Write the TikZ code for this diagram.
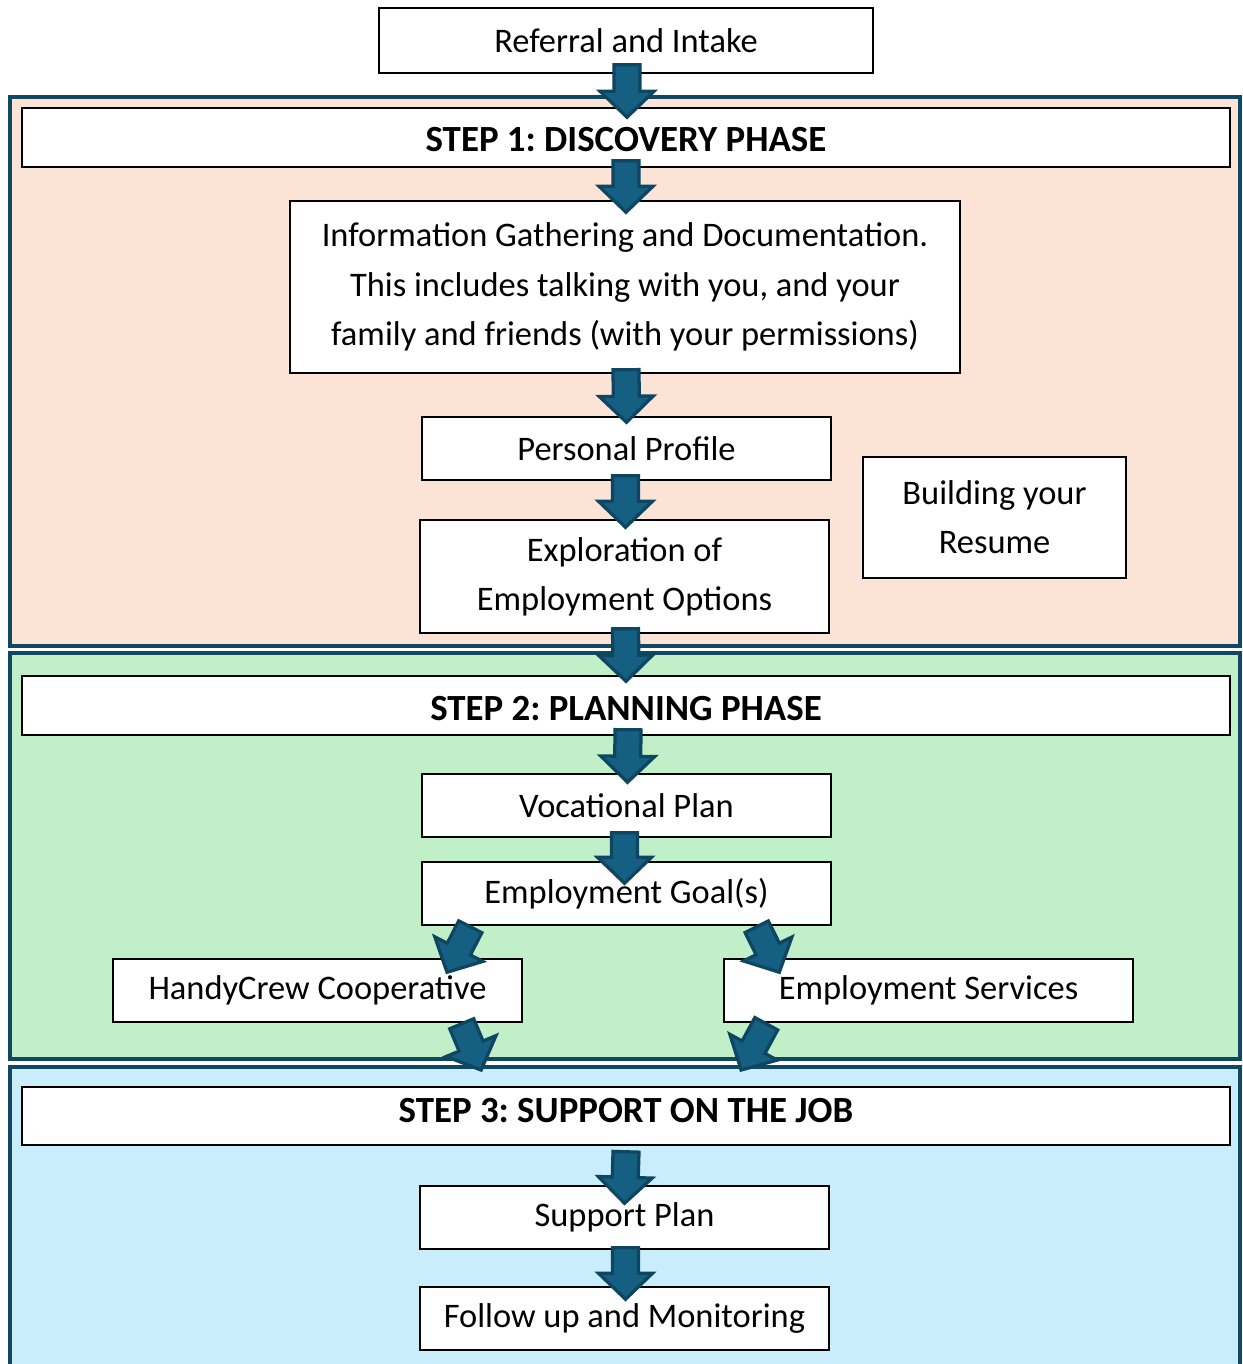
\documentclass[tikz,border=0pt]{standalone}
\usepackage{fontspec}
\setmainfont{Carlito}
\usepackage{tikz}
\usetikzlibrary{calc,positioning}
\frenchspacing

\definecolor{peach}{HTML}{FBE3D6}
\definecolor{mint}{HTML}{C1F0C8}
\definecolor{sky}{HTML}{CAEDFB}
\definecolor{frameblue}{HTML}{104862}
\definecolor{arrowfill}{HTML}{156082}
\definecolor{arrowline}{HTML}{0E4560}

% block arrow from tail point to tip point
\newcommand{\blkarrow}[2]{%
	\coordinate (bt) at (#1);
	\coordinate (bh) at (#2);
	\coordinate (bb) at ($(bh)!0.52cm!(bt)$);
	\draw[blkarr] ($(bt)!0.26cm!90:(bh)$) -- ($(bb)!0.26cm!90:(bh)$) -- ($(bb)!0.54cm!90:(bh)$)
		-- (bh) -- ($(bb)!0.54cm!-90:(bh)$) -- ($(bb)!0.26cm!-90:(bh)$) -- ($(bt)!0.26cm!-90:(bh)$) -- cycle;
}

\begin{document}
\begin{tikzpicture}[
		x=0.02cm, y=-0.02cm,
		phase/.style={draw=frameblue, line width=0.08cm, rectangle, inner sep=0pt},
		box/.style={draw=black, line width=0.03cm, fill=white, rectangle, align=center,
			font=\fontsize{19.6}{28}\selectfont, inner sep=2pt},
		header/.style={box, minimum width=24.16cm, minimum height=1.18cm,
			font=\fontsize{21}{28}\selectfont\bfseries, text height=0.58cm, text depth=0cm},
		stepbox/.style={box, minimum width=8.18cm, minimum height=1.26cm},
		blkarr/.style={fill=arrowfill, draw=arrowline, line width=0.065cm, line join=miter}
		]

	\useasboundingbox (0,0) rectangle (1242,1364);

	% --- phases ---
	\node[phase, fill=peach, minimum width=24.6cm, minimum height=10.98cm] (ph1) at (625,371.5) {};
	\node[phase, fill=mint, minimum width=24.6cm, minimum height=8.12cm] (ph2) at (625,856) {};
	\node[phase, fill=sky, minimum width=24.6cm, minimum height=6.4cm] (ph3) at (625,1227) {};

	% --- boxes ---
	\node[box, minimum width=9.88cm, minimum height=1.3cm] (ref) at (626,40.5) {Referral and Intake};

	\node[header] (s1) at (626,137.5) {STEP 1: DISCOVERY PHASE};
	\node[box, minimum width=13.4cm, minimum height=3.44cm] (info) at (625,287)
		{Information Gathering and Documentation.\\ This includes talking with you, and your\\ family and friends (with your permissions)};
	\node[stepbox] (prof) at (626.5,448.5) {Personal Profile};
	\node[stepbox, minimum height=2.26cm] (expl) at (624.5,576.5) {Exploration of\\ Employment Options};
	\node[box, minimum width=5.26cm, minimum height=2.42cm] (resume) at (994.5,517.5) {Building your\\ Resume};

	\node[header] (s2) at (626,705.5) {STEP 2: PLANNING PHASE};
	\node[stepbox] (voc) at (626.5,805.5) {Vocational Plan};
	\node[stepbox] (goal) at (626.5,893.5) {Employment Goal(s)};
	\node[stepbox] (handy) at (317.5,990.5) {HandyCrew Cooperative};
	\node[stepbox] (empl) at (928.5,990.5) {Employment Services};

	\node[header, minimum height=1.16cm, text height=0.26cm] (s3) at (626,1116) {STEP 3: SUPPORT ON THE JOB};
	\node[stepbox] (supp) at (624.5,1217.5) {Support Plan};
	\node[stepbox] (follow) at (624.5,1318.5) {Follow up and Monitoring};

	% --- arrows ---
	\blkarrow{$(ref.south)+(1,-9)$}{$(s1.north)+(1,10)$}
	\blkarrow{$(s1.south)+(0,-7)$}{$(info.north)+(1,12)$}
	\blkarrow{$(info.south)+(1,-4)$}{$(prof.north)+(0,6)$}
	\blkarrow{$(prof.south)+(-1,-5)$}{$(expl.north)+(1,8)$}
	\blkarrow{$(expl.south)+(1,-5)$}{$(s2.north)+(0,6)$}
	\blkarrow{$(s2.south)+(2,-6)$}{$(voc.north)+(1,9)$}
	\blkarrow{$(voc.south)+(-2,-5)$}{$(goal.north)+(-2,22)$}
	\blkarrow{$(goal.south west)+(49,1)$}{$(handy.north)+(129.5,14)$}
	\blkarrow{$(goal.south east)+(-75,1)$}{$(empl.north west)+(56,14)$}
	\blkarrow{$(handy.south east)+(-61,1)$}{$(ph3.north west)+(473,5)$}
	\blkarrow{$(empl.south west)+(43,1)$}{$(ph3.north west)+(733,5)$}
	\blkarrow{$(s3.south)+(0,6)$}{$(supp.north)+(0,18)$}
	\blkarrow{$(supp.south)+(1,-2)$}{$(follow.north)+(1,13)$}

\end{tikzpicture}
\end{document}
